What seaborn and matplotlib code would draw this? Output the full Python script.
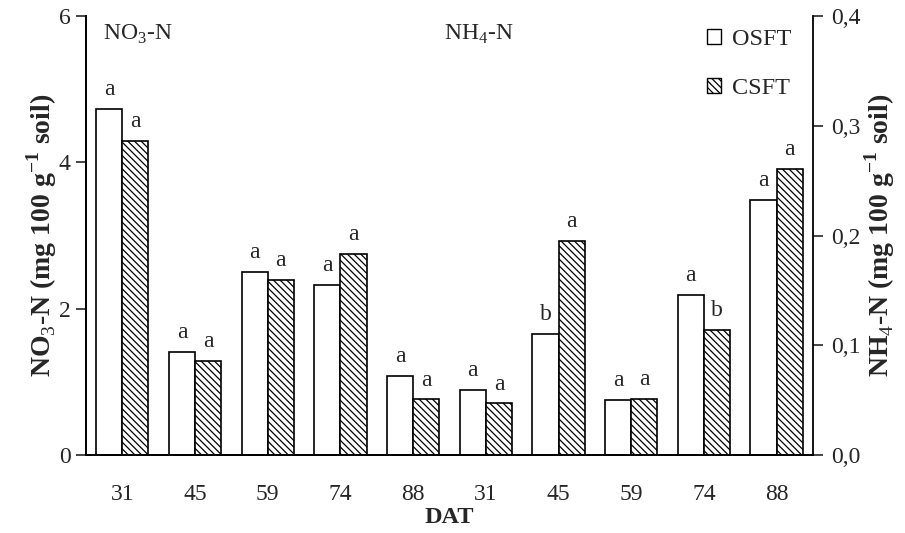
import matplotlib
matplotlib.use("Agg")
import matplotlib.pyplot as plt
import numpy as np
import pandas as pd
import seaborn as sns
from matplotlib.patches import Patch

# Sampling days (days after transplanting) and fertilizer treatments
days = ["31", "45", "59", "74", "88"]
treatments = ["OSFT", "CSFT"]

# Nitrate (left axis) and ammonium (right axis), mg 100 g-1 soil
no3_osft = [4.73, 1.41, 2.50, 2.32, 1.08]
no3_csft = [4.29, 1.29, 2.39, 2.75, 0.76]
nh4_osft = [0.059, 0.110, 0.050, 0.146, 0.232]
nh4_csft = [0.047, 0.195, 0.051, 0.114, 0.261]

# Significance letters
no3_osft_letters = ["a", "a", "a", "a", "a"]
no3_csft_letters = ["a", "a", "a", "a", "a"]
nh4_osft_letters = ["a", "b", "a", "a", "a"]
nh4_csft_letters = ["a", "a", "a", "b", "a"]

slots = [f"NO3 {d}" for d in days] + [f"NH4 {d}" for d in days]

no3_df = pd.DataFrame({
    "slot": [f"NO3 {d}" for d in days] * 2,
    "treatment": ["OSFT"] * 5 + ["CSFT"] * 5,
    "value": no3_osft + no3_csft,
})
nh4_df = pd.DataFrame({
    "slot": [f"NH4 {d}" for d in days] * 2,
    "treatment": ["OSFT"] * 5 + ["CSFT"] * 5,
    "value": nh4_osft + nh4_csft,
})

sns.set_theme(style="ticks")
plt.rcParams["font.family"] = ["Liberation Serif", "DejaVu Serif"]
plt.rcParams["mathtext.fontset"] = "custom"
plt.rcParams["mathtext.rm"] = "Liberation Serif"
plt.rcParams["mathtext.bf"] = "Liberation Serif:bold"
plt.rcParams["hatch.linewidth"] = 0.9

HATCH = "\\" * 5
FS = 17
LABEL_FS = 20

fig = plt.figure(figsize=(9.05, 5.33), dpi=100)
ax = fig.add_axes([0.095, 0.1463, 0.8033, 0.8237])
ax2 = ax.twinx()

palette = {"OSFT": "white", "CSFT": "#f0f0f0"}
for a, df in ((ax, no3_df), (ax2, nh4_df)):
    sns.barplot(data=df, x="slot", y="value", hue="treatment", order=slots,
                hue_order=treatments, palette=palette, width=0.72,
                edgecolor="black", linewidth=1.2, legend=False, ax=a)

def style_bars(a, letters_by_hue):
    for cont, letters in zip(a.containers, letters_by_hue):
        for bar, lt in zip(cont, letters):
            h = bar.get_height()
            if np.isnan(h):
                continue
            a.annotate(lt, (bar.get_x() + bar.get_width() / 2, h),
                       xytext=(0, 10), textcoords="offset points",
                       ha="center", va="baseline", fontsize=FS)
    for bar in a.containers[1]:
        bar.set_facecolor("white")
        bar.set_hatch(HATCH)

style_bars(ax, [no3_osft_letters, no3_csft_letters])
style_bars(ax2, [nh4_osft_letters, nh4_csft_letters])

ax.set_xlim(-0.5, 9.5)
ax.set_ylim(0, 6)
ax.set_yticks([0, 2, 4, 6])
ax2.set_ylim(0, 0.4)
ax2.set_yticks([0, 0.1, 0.2, 0.3, 0.4])
ax2.set_yticklabels(["0,0", "0,1", "0,2", "0,3", "0,4"])

ax.set_xticks(range(10))
ax.set_xticklabels(days + days)
ax.tick_params(axis="x", length=0, pad=21, labelsize=FS)
ax.tick_params(axis="y", direction="out", length=7, width=1.2, labelsize=FS, pad=4)
ax2.tick_params(axis="y", direction="out", length=7, width=1.2, labelsize=FS, pad=6)

for a in (ax, ax2):
    a.spines["top"].set_visible(False)
    for s in ("left", "right", "bottom"):
        a.spines[s].set_linewidth(1.3)
        a.spines[s].set_color("black")
ax.spines["right"].set_visible(False)

ax.set_xlabel("DAT", fontsize=17.5, fontweight="bold", labelpad=1)
ax.set_ylabel(r"NO$_3$-N (mg 100 g$^{\mathbf{-1}}$ soil)", fontsize=LABEL_FS,
              fontweight="bold", labelpad=0)
ax2.set_ylabel(r"NH$_4$-N (mg 100 g$^{\mathbf{-1}}$ soil)", fontsize=LABEL_FS,
               fontweight="bold", labelpad=1)

ax.text(0.023, 0.957, r"NO$_3$-N", transform=ax.transAxes, fontsize=FS,
        ha="left", va="center")
ax.text(0.54, 0.957, r"NH$_4$-N", transform=ax.transAxes, fontsize=FS,
        ha="center", va="center")

handles = [Patch(facecolor="white", edgecolor="black", linewidth=1.0),
           Patch(facecolor="white", edgecolor="black", linewidth=1.0,
                 hatch=HATCH)]
ax2.legend(handles, treatments, loc="upper right", bbox_to_anchor=(1.0, 1.02),
           frameon=False, fontsize=17.5, handlelength=0.55, handleheight=0.55,
           handletextpad=0.45, labelspacing=1.15)

fig.savefig("out.png", dpi=100)
